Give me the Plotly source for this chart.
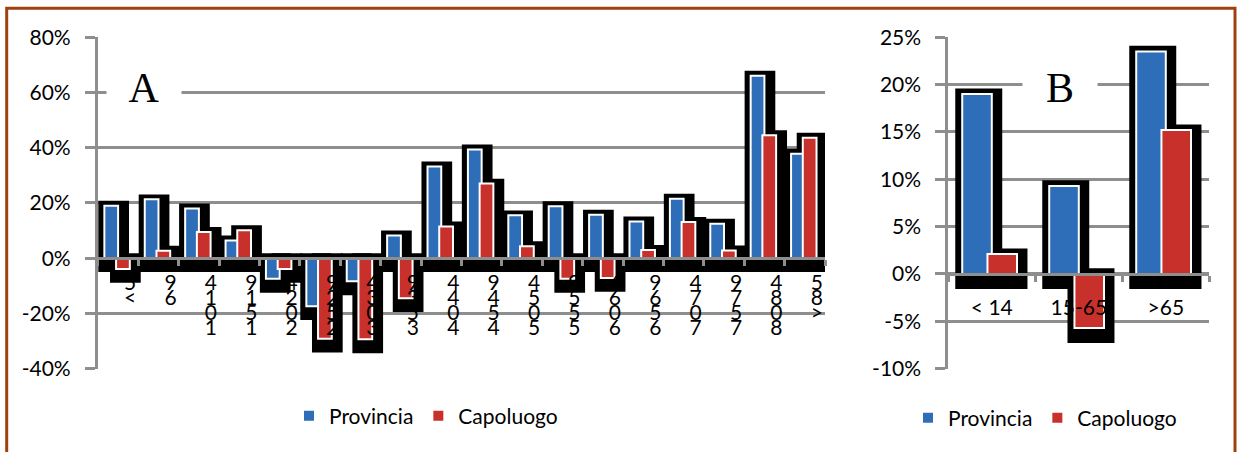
import plotly.graph_objects as go

# ---------------- data ----------------
cats_A = ["<5", "6-9", "10-14", "15-19", "20-24", "25-29", "30-34", "35-39", "40-44",
          "45-49", "50-54", "55-59", "60-64", "65-69", "70-74", "75-79", "80-84", ">85"]
prov_A = [19.0, 21.3, 18.0, 6.4, -7.5, -17.4, -8.4, 8.2, 33.2, 39.4, 15.5, 18.8, 15.7, 13.3,
          21.5, 12.5, 66.1, 37.8]
cap_A = [-3.9, 2.7, 9.5, 10.1, -3.9, -29.2, -29.4, -14.5, 11.5, 27.0, 4.3, -7.5, -7.2, 3.0,
         13.1, 2.8, 44.5, 43.6]

cats_B = ["< 14", "15-65", ">65"]
prov_B = [19.0, 9.3, 23.5]
cap_B = [2.1, -5.7, 15.2]

yticks_A = [-40, -20, 0, 20, 40, 60, 80]
yticks_B = [-10, -5, 0, 5, 10, 15, 20, 25]
series_names = ["Provincia", "Capoluogo"]
panel_titles = ["A", "B"]

# ---------------- style ----------------
W, H = 1237, 452
FONT = "Lato, 'Open Sans', sans-serif"
GRID = "#8E8E8E"
COLORS = ["#2E6DB8", "#C8302B"]
BAR_W = 0.34
OFFS = [-0.34, -0.05]

xA_dom = [97.9 / W, 825 / W]
xB_dom = [948.3 / W, 1209.3 / W]
y_dom = [1 - 368.6 / H, 1 - 37.3 / H]


def esc(s):
    return s.replace("&", "&amp;").replace("<", "&lt;").replace(">", "&gt;")


def zero_pos(rng):
    return y_dom[0] + (0 - rng[0]) / (rng[1] - rng[0]) * (y_dom[1] - y_dom[0])


rngA = [min(yticks_A), max(yticks_A)]
rngB = [min(yticks_B), max(yticks_B)]
zA, zB = zero_pos(rngA), zero_pos(rngB)

fig = go.Figure()

panels = [
    dict(cats=cats_A, vals=[prov_A, cap_A], xa="x", ya="y", legend="legend",
         pt=1.8, pb=5.0, pl=0.15, pr=0.27),
    dict(cats=cats_B, vals=[prov_B, cap_B], xa="x2", ya="y2", legend="legend2",
         pt=0.6, pb=1.6, pl=0.08, pr=0.12),
]

for p in panels:
    # black drop shadows behind the bars
    for i, vals in enumerate(p["vals"]):
        base = [min(v, 0) - p["pb"] for v in vals]
        top = [max(v, 0) + p["pt"] for v in vals]
        fig.add_trace(go.Bar(
            x=p["cats"], y=[t - b for t, b in zip(top, base)], base=base,
            offset=OFFS[i] - p["pl"], width=BAR_W + p["pl"] + p["pr"],
            marker=dict(color="black", line=dict(width=0)),
            xaxis=p["xa"], yaxis=p["ya"], showlegend=False, hoverinfo="skip"))
    for i, vals in enumerate(p["vals"]):
        fig.add_trace(go.Bar(
            x=p["cats"], y=vals, name=series_names[i],
            offset=OFFS[i], width=BAR_W,
            marker=dict(color=COLORS[i], line=dict(color="white", width=2)),
            xaxis=p["xa"], yaxis=p["ya"], legend=p["legend"]))

# stacked (reversed) tick-label rows for panel A
chars = [list(reversed(c.replace("-", "").replace(" ", ""))) for c in cats_A]
nrows = max(len(c) for c in chars)
ROW0, ROWSTEP = 10, 15
layout_axes = {}
for k in range(nrows):
    name = f"xaxis{3 + k}"
    fig.add_trace(go.Scatter(x=[], y=[], xaxis=f"x{3 + k}", yaxis="y",
                             showlegend=False, hoverinfo="skip"))
    layout_axes[name] = dict(
        overlaying="x", type="linear", range=[-0.5, len(cats_A) - 0.5],
        anchor="free", position=zA, showline=False, showgrid=False, zeroline=False,
        ticks="", tickmode="array", tickvals=list(range(len(cats_A))),
        ticktext=[esc(c[k]) if k < len(c) else "" for c in chars],
        ticklabelshift=12, ticklabelstandoff=ROW0 + ROWSTEP * k, automargin=False,
        layer="above traces", tickfont=dict(family=FONT, size=21, color="black"))

# label axis for panel B
bname = f"xaxis{3 + nrows}"
fig.add_trace(go.Scatter(x=[], y=[], xaxis=f"x{3 + nrows}", yaxis="y2",
                         showlegend=False, hoverinfo="skip"))
layout_axes[bname] = dict(
    overlaying="x2", type="linear", range=[-0.5, len(cats_B) - 0.5],
    anchor="free", position=zB, showline=False, showgrid=False, zeroline=False,
    ticks="", tickmode="array", tickvals=list(range(len(cats_B))),
    ticktext=[esc(c) for c in cats_B], ticklabelstandoff=19, automargin=False,
    layer="above traces", tickfont=dict(family=FONT, size=21, color="black"))

common_x = dict(type="category", anchor="free", showline=True, linecolor=GRID, linewidth=3,
                ticks="outside", tickson="boundaries", ticklen=6, tickwidth=3, tickcolor=GRID,
                showticklabels=False, showgrid=False, zeroline=False, layer="above traces",
                automargin=False)
common_y = dict(showgrid=True, gridcolor=GRID, gridwidth=3, showline=True, linecolor=GRID,
                linewidth=3, ticks="outside", ticklen=10, tickwidth=3, tickcolor=GRID,
                zeroline=False, tickmode="array", ticklabelstandoff=10, automargin=False,
                tickfont=dict(family=FONT, size=21, color="black"))

fig.update_layout(
    width=W, height=H, margin=dict(l=0, r=0, t=0, b=0, autoexpand=False),
    plot_bgcolor="white", paper_bgcolor="white", barmode="overlay",
    font=dict(family=FONT, size=21, color="black"),
    xaxis=dict(domain=xA_dom, position=zA, range=[-0.5, len(cats_A) - 0.5], **common_x),
    xaxis2=dict(domain=xB_dom, position=zB, range=[-0.5, len(cats_B) - 0.5], **common_x),
    yaxis=dict(domain=y_dom, anchor="x", range=rngA, tickvals=yticks_A,
               ticktext=[f"{v}%" for v in yticks_A], **common_y),
    yaxis2=dict(domain=y_dom, anchor="x2", range=rngB, tickvals=yticks_B,
                ticktext=[f"{v}%" for v in yticks_B], **common_y),
    legend=dict(orientation="h", x=426 / W, xanchor="center", y=1 - 416 / H,
                yanchor="middle", bgcolor="rgba(0,0,0,0)", font=dict(family=FONT, size=21)),
    legend2=dict(orientation="h", x=1045 / W, xanchor="center", y=1 - 418 / H,
                 yanchor="middle", bgcolor="rgba(0,0,0,0)", font=dict(family=FONT, size=21)),
    **layout_axes,
)

# panel letters
for txt, xc in zip(panel_titles, [144, 1060]):
    fig.add_annotation(text=txt, x=xc / W, y=1 - 88 / H, xref="paper", yref="paper",
                       xanchor="center", yanchor="middle",
                       showarrow=False, bgcolor="white", width=72, height=46,
                       font=dict(family="'Liberation Serif', 'Times New Roman', serif",
                                 size=42, color="black"))

# frame
fig.add_shape(type="rect", xref="paper", yref="paper", x0=6.7 / W, x1=1235 / W,
              y0=-0.1, y1=1 - 8.3 / H, line=dict(color="#A0400F", width=3),
              fillcolor="rgba(0,0,0,0)", layer="above")

fig.write_html("out.html", config={"displayModeBar": False},
               post_script="document.body.style.margin='0';document.body.style.overflow='hidden';")
